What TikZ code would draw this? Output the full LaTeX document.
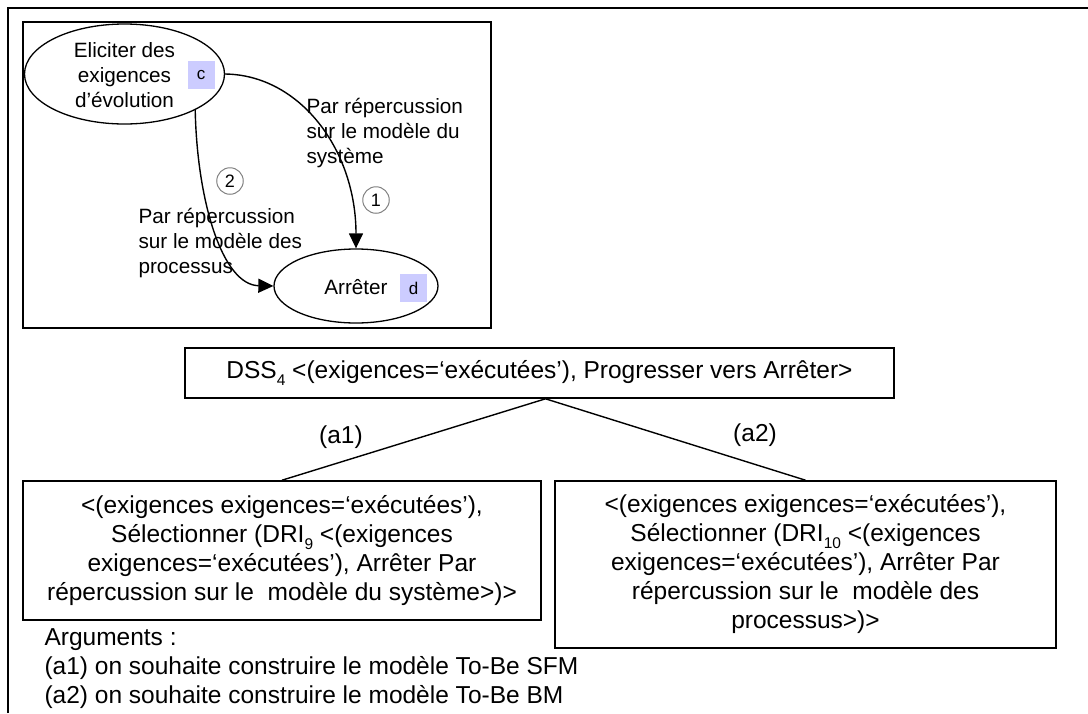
\documentclass[tikz,border=0pt]{standalone}
\usepackage{fontspec}
\setmainfont{Liberation Sans}
\usetikzlibrary{shapes.geometric,arrows.meta}
\definecolor{lavender}{HTML}{CCCCFF}
\newcommand{\mysubidx}[1]{\raisebox{-0.28em}{\fontsize{15.5}{16}\selectfont #1}}
\begin{document}
\begin{tikzpicture}[x=1pt,y=-1pt,
  big/.style={font=\fontsize{24.5}{29}\selectfont},
  small/.style={font=\fontsize{20.7}{25}\selectfont},
  box/.style={draw, line width=1.6pt, inner sep=0pt, align=center, big},
  oval/.style={ellipse, draw, line width=1.3pt, inner sep=0pt},
  tag/.style={fill=lavender, minimum width=27pt, minimum height=28pt, inner sep=0pt, font=\fontsize{17}{20}\selectfont},
  num/.style={circle, draw=gray, line width=1pt, minimum size=26.5pt, inner sep=0pt, font=\fontsize{18}{20}\selectfont},
  arr/.style={-{Triangle[length=15pt,width=14pt]}, line width=1.4pt},
  tree/.style={line width=1.4pt}]
\useasboundingbox (0,0) rectangle (1088,713);
% outer frame (left and top edges)
\draw[line width=1.6pt] (8,713) -- (8,8) -- (1088,8);
% inner frame
\node[draw, line width=1.6pt, minimum width=468pt, minimum height=306pt, inner sep=0pt] (frame) at (257,175) {};
% ellipses
\node[oval, minimum width=200pt, minimum height=100pt] (e1) at (124.5,74) {};
\node[small, align=center] (t1) at (124.5,75) {Eliciter des\\exigences\\d’évolution};
\node[tag] (c) at (201,75) {c};
\node[oval, minimum width=164pt, minimum height=74pt] (e2) at (356,286) {};
\node[small] (t2) at (356,287) {Arrêter};
\node[tag] (d) at (413.5,288) {d};
% labels
\node[small, align=left, anchor=west] (l1) at (303,133) {Par répercussion\\sur le modèle du\\système};
\node[small, align=left, anchor=west] (l2) at (135,243) {Par répercussion\\sur le modèle des\\processus};
\node[num] (n1) at (376,200) {1};
\node[num] (n2) at (230,181) {2};
% arrows
\draw[arr] (e1.east) .. controls (300,75) and (356,150) .. (e2.north);
\draw[arr] (e1.-27) .. controls (197,200) and (222,285) .. (e2.west);
% decision tree
\node[box, minimum width=709pt, minimum height=50pt] (dss) at (539.5,373) {DSS\mysubidx{4} <(exigences=‘exécutées’), Progresser vers Arrêter>};
\node[box, minimum width=518pt, minimum height=139pt] (b1) at (282,550.5) {<(exigences exigences=‘exécutées’),\\Sélectionner (DRI\mysubidx{9} <(exigences\\exigences=‘exécutées’), Arrêter Par\\répercussion sur le~\ modèle du système>)>};
\node[box, minimum width=501pt, minimum height=167pt] (b2) at (805.5,564.5) {<(exigences exigences=‘exécutées’),\\Sélectionner (DRI\mysubidx{10} <(exigences\\exigences=‘exécutées’), Arrêter Par\\répercussion sur le~\ modèle des\\processus>)>};
\coordinate (apex) at ([xshift=6pt]dss.south);
\draw[tree] (b1.north) -- (apex) -- (b2.north);
\node[big] (a1) at (341,437) {(a1)};
\node[big] (a2) at (755,435) {(a2)};
\node[big, align=left, anchor=west] (args) at (41,669) {Arguments :\\(a1) on souhaite construire le modèle To-Be SFM\\(a2) on souhaite construire le modèle To-Be BM};
\end{tikzpicture}
\end{document}
